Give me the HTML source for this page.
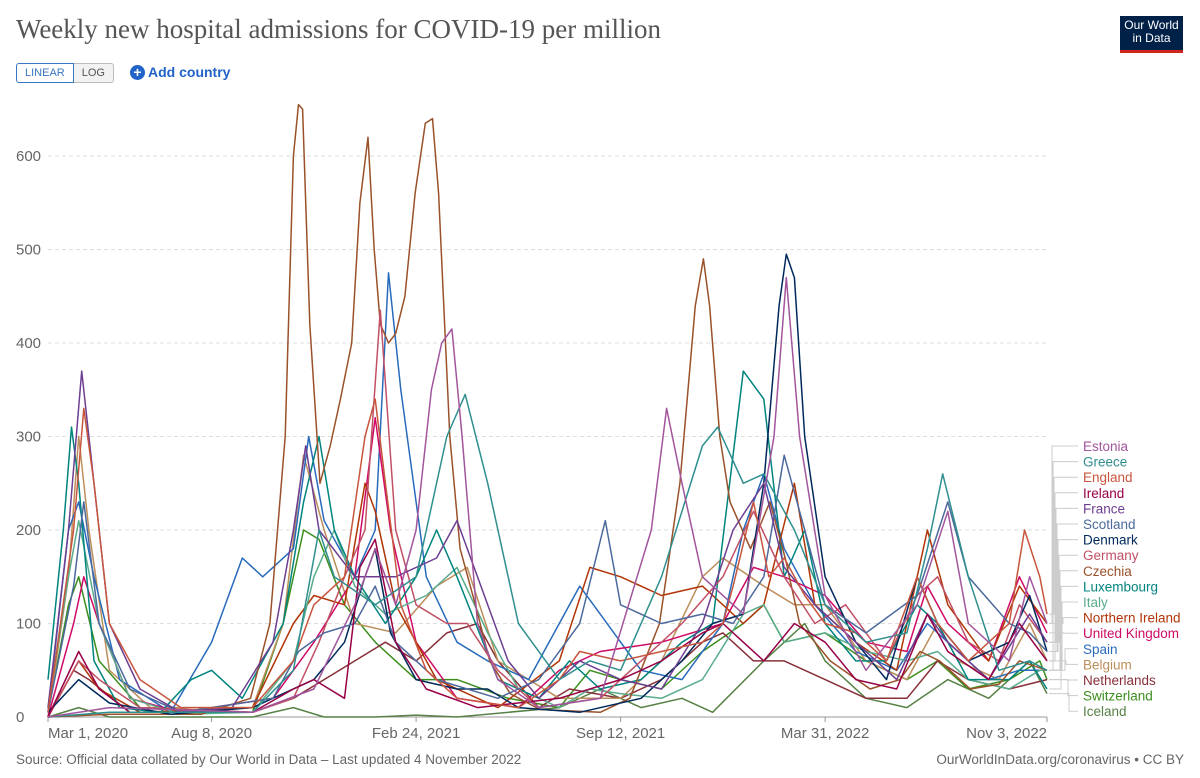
<!DOCTYPE html>
<html><head><meta charset="utf-8">
<style>
body{margin:0;background:#fff;width:1200px;height:778px;overflow:hidden;font-family:"Liberation Sans",sans-serif;}
#wrap{position:relative;width:1200px;height:778px;}
.title{position:absolute;left:16px;top:14px;font-family:"Liberation Serif",serif;font-size:27px;color:#555;}
.logo{position:absolute;left:1120px;top:16px;width:63px;height:37px;background:#002147;color:#fff;font-size:12px;line-height:13px;text-align:center;padding-top:3px;box-sizing:border-box;border-bottom:3px solid #ce261e;}
.btns{position:absolute;left:16px;top:63px;display:flex;font-size:11px;}
.btn{border:1px solid #bbb;padding:3px 8px;color:#555;background:#f2f2f2;}
.btn.on{border-color:#3a76c4;color:#3a76c4;background:#fff;border-radius:3px 0 0 3px;}
.btn.off{border-radius:0 3px 3px 0;border-left:none;}
.add{position:absolute;left:130px;top:64px;color:#2163c8;font-size:14px;font-weight:bold;}
.add span{display:inline-block;width:15px;height:15px;border-radius:50%;background:#2163c8;color:#fff;text-align:center;line-height:15px;font-size:14px;margin-right:3px;}
.foot{position:absolute;top:752px;font-size:13.5px;color:#666;}
</style></head><body>
<div id="wrap">
<div class="title">Weekly new hospital admissions for COVID-19 per million</div>
<div class="logo">Our World<br>in Data</div>
<div class="btns"><div class="btn on">LINEAR</div><div class="btn off">LOG</div></div>
<div class="add"><span>+</span>Add country</div>
<svg id="chart" width="1200" height="778" style="position:absolute;left:0;top:0"></svg>
<div class="foot" style="left:16px">Source: Official data collated by Our World in Data – Last updated 4 November 2022</div>
<div class="foot" style="right:16px">OurWorldInData.org/coronavirus • CC BY</div>
</div>
<script>
const yTicks=[0,100,200,300,400,500,600];
const xTickLabels=["Mar 1, 2020","Aug 8, 2020","Feb 24, 2021","Sep 12, 2021","Mar 31, 2022","Nov 3, 2022"];
const xTickDays=[0,160,360,560,760,977];
const legendOrder=["Estonia","Greece","England","Ireland","France","Scotland","Denmark","Germany","Czechia","Luxembourg","Italy","Northern Ireland","United Kingdom","Spain","Belgium","Netherlands","Switzerland","Iceland"];
const colors={Estonia:"#A2559C",Greece:"#2F8F8F",England:"#C8553D",Ireland:"#970046",France:"#6D3E91",Scotland:"#4C6A9C",Denmark:"#00295B",Germany:"#C15065",Czechia:"#9A5129",Luxembourg:"#00847E",Italy:"#58AC8C",Northern_Ireland:"#B13507",United_Kingdom:"#CF0A66",Spain:"#286BBB",Belgium:"#BC8E5A",Netherlands:"#883039",Switzerland:"#3B8E1D",Iceland:"#578145"};
// [day since Mar 1 2020, value]
const czechia=[[0,0],[60,3],[150,3],[198,20],[217,100],[232,300],[240,600],[245,655],[249,650],[256,420],[266,250],[276,290],[286,340],[297,400],[305,550],[313,620],[319,500],[325,420],[333,400],[340,410],[349,450],[359,560],[369,635],[376,640],[382,560],[393,300],[403,180],[418,120],[432,60],[452,25],[481,8],[540,5],[569,20],[598,100],[618,250],[633,440],[641,490],[647,440],[657,300],[667,230],[687,180],[706,230],[721,170],[735,100],[765,60],[804,30],[833,40],[853,70],[872,60],[902,30],[930,35],[950,60],[977,50]];
const denmark=[[0,5],[30,40],[60,15],[120,3],[200,10],[260,40],[290,80],[310,150],[320,180],[335,90],[360,40],[400,30],[430,30],[460,10],[520,5],[580,20],[620,60],[650,100],[680,110],[700,250],[715,440],[722,495],[730,470],[740,300],[760,150],[790,80],[820,40],[850,150],[870,100],[900,60],[940,80],[960,130],[977,70]];
const estonia=[[0,0],[60,10],[200,5],[260,30],[300,120],[320,180],[340,120],[360,200],[375,350],[385,400],[395,415],[405,300],[420,100],[440,40],[480,10],[540,20],[590,200],[605,330],[620,250],[640,150],[680,110],[710,300],[722,470],[735,300],[760,130],[800,50],[850,120],[880,220],[900,100],[940,60],[960,150],[977,100]];
const france=[[0,10],[20,200],[33,370],[45,250],[60,100],[90,30],[130,5],[180,10],[220,80],[240,200],[252,290],[265,200],[300,150],[340,150],[380,170],[400,210],[420,150],[450,60],[480,20],[520,60],[560,40],[600,30],[640,100],[670,200],[700,250],[720,160],[750,120],[790,80],[830,40],[860,110],[880,80],[920,40],[960,110],[977,80]];
const luxembourg=[[0,40],[15,200],[23,310],[30,250],[45,60],[70,10],[110,5],[140,40],[160,50],[190,20],[230,100],[250,230],[265,300],[280,200],[300,150],[330,100],[360,150],[380,200],[400,150],[440,40],[480,20],[510,60],[540,30],[580,40],[620,80],[650,100],[680,370],[700,340],[720,150],[740,200],[760,100],[790,60],[820,60],[850,120],[870,100],[900,40],[940,40],[960,60],[977,30]];
const greece=[[0,0],[60,5],[200,5],[240,50],[265,200],[280,150],[320,120],[360,150],[390,300],[408,345],[430,250],[460,100],[500,40],[530,60],[560,50],[600,150],[640,290],[655,310],[680,250],[700,260],[730,200],[760,120],[800,80],[840,90],[860,180],[875,260],[900,150],[930,50],[960,60],[977,50]];
const england=[[0,5],[25,200],[35,330],[45,250],[60,100],[90,40],[130,10],[200,10],[240,60],[260,120],[290,150],[310,300],[320,340],[330,250],[345,120],[370,50],[400,20],[460,10],[500,40],[520,70],[560,60],[600,70],[640,80],[660,100],[670,140],[690,230],[705,150],[720,170],[740,130],[760,100],[790,90],[820,60],[850,150],[870,100],[900,60],[940,100],[955,200],[970,150],[977,110]];
const ireland=[[0,0],[30,70],[50,30],[80,5],[200,5],[240,30],[260,40],[290,20],[305,160],[320,190],[340,80],[370,30],[420,10],[500,20],[560,40],[600,60],[640,90],[660,100],[680,80],[700,60],[730,100],[760,80],[790,40],[830,30],[860,110],[880,70],[920,40],[950,100],[977,60]];
const scotland=[[0,5],[25,140],[35,230],[50,100],[80,30],[130,5],[220,20],[245,70],[270,90],[300,100],[320,140],[340,80],[380,40],[440,20],[480,40],[520,100],[545,210],[560,120],[600,100],[640,110],[670,100],[700,150],[720,280],[740,200],[760,120],[800,90],[850,130],[880,230],[900,150],[940,100],[960,90],[977,70]];
const germany=[[0,0],[30,60],[50,40],[90,10],[200,5],[240,20],[265,80],[290,150],[310,200],[325,435],[340,200],[360,120],[390,100],[410,100],[440,50],[480,10],[540,20],[580,60],[620,100],[660,150],[690,220],[720,150],[750,100],[780,120],[820,60],[850,130],[870,150],[900,80],[930,60],[950,120],[977,80]];
const italy=[[0,10],[20,150],[30,210],[50,100],[80,20],[130,3],[200,5],[240,60],[260,150],[280,200],[300,140],[330,110],[370,130],[400,160],[430,90],[460,30],[500,10],[530,30],[560,25],[600,20],[640,40],[680,110],[700,120],[720,80],[760,90],[800,70],[840,60],[870,70],[900,40],[940,30],[970,50],[977,50]];
const nIreland=[[0,0],[30,60],[50,30],[90,5],[200,10],[240,100],[260,130],[290,120],[310,250],[320,220],[340,120],[380,40],[440,10],[500,60],[530,160],[560,150],[600,130],[640,140],[680,100],[700,120],[730,250],[750,120],[790,80],[830,50],[860,200],[880,120],[920,60],[950,140],[977,100]];
const uk=[[0,0],[25,100],[35,150],[50,100],[80,20],[130,5],[220,20],[260,80],[300,150],[320,320],[335,200],[360,80],[400,20],[460,10],[500,50],[540,70],[600,80],[660,100],[690,160],[720,150],[760,130],[800,80],[840,70],[860,140],[880,100],[920,60],[950,150],[977,90]];
const spain=[[0,5],[20,200],[30,230],[45,150],[70,40],[120,5],[160,80],[190,170],[210,150],[240,180],[255,300],[270,210],[300,150],[320,200],[333,475],[345,350],[370,150],[400,80],[430,60],[470,40],[500,100],[520,140],[540,110],[580,50],[620,40],[660,100],[680,200],[700,260],[720,180],[750,120],[790,70],[830,50],[860,100],[880,80],[920,40],[950,50],[977,50]];
const belgium=[[0,0],[20,150],[30,300],[40,200],[60,50],[100,10],[200,10],[230,100],[250,280],[270,200],[300,100],[340,90],[380,140],[410,160],[440,60],[500,20],[560,20],[600,60],[640,150],[660,170],[700,140],[730,120],[760,120],[800,60],[840,40],[870,100],[890,60],[930,40],[960,100],[977,60]];
const netherlands=[[0,0],[25,50],[40,40],[80,5],[200,5],[240,20],[270,40],[300,60],[330,80],[360,60],[390,90],[420,100],[440,60],[480,10],[510,30],[560,20],[600,40],[640,80],[660,90],[690,60],[720,60],[760,40],[800,20],[840,20],[870,60],[900,40],[940,30],[977,40]];
const switzerland=[[0,5],[20,120],[30,150],[50,60],[90,10],[200,5],[230,100],[250,200],[265,190],[290,120],[320,80],[360,40],[400,40],[450,20],[500,10],[530,50],[560,40],[600,30],[640,70],[680,100],[700,120],[720,80],[760,90],[800,60],[840,40],[870,60],[900,30],[940,40],[970,60],[977,40]];
const iceland=[[0,0],[30,10],[60,0],[200,0],[240,10],[270,0],[320,0],[360,2],[400,0],[500,10],[540,30],[580,10],[620,20],[650,5],[700,60],[740,100],[760,60],[800,20],[840,10],[880,40],[920,20],[960,60],[977,25]];
const seriesData={Estonia:estonia,Greece:greece,England:england,Ireland:ireland,France:france,Scotland:scotland,Denmark:denmark,Germany:germany,Czechia:czechia,Luxembourg:luxembourg,Italy:italy,"Northern Ireland":nIreland,"United Kingdom":uk,Spain:spain,Belgium:belgium,Netherlands:netherlands,Switzerland:switzerland,Iceland:iceland};

const NS="http://www.w3.org/2000/svg";
const svg=document.getElementById('chart');
const X0=48,X1=1047,DMAX=977,Y0=717,Y600=156;
const xs=d=>X0+(X1-X0)*d/DMAX;
const ys=v=>Y0-(Y0-Y600)*v/600;
function mk(tag,attrs,txt){const e=document.createElementNS(NS,tag);for(const k in attrs)e.setAttribute(k,attrs[k]);if(txt!==undefined)e.textContent=txt;svg.appendChild(e);return e;}
yTicks.forEach(t=>{
  if(t>0){const g=mk('line',{x1:X0,x2:X1,y1:ys(t),y2:ys(t),stroke:'#ddd','stroke-dasharray':'4,3'});
  
  }
  const l=mk('text',{x:16,y:ys(t)+5,'font-size':15,fill:'#666'},String(t));
  
  
});
const ax=mk('line',{x1:X0,x2:X1,y1:Y0,y2:Y0,stroke:'#999'});


xTickLabels.forEach((lab,i)=>{
  const x=xs(xTickDays[i]);
  mk('line',{x1:x,x2:x,y1:Y0,y2:Y0+5,stroke:'#999'});
  const anchor=i===0?'start':(i===xTickLabels.length-1?'end':'middle');
  const t=mk('text',{x:i===0?x:(i===xTickLabels.length-1?x:x),y:738,'font-size':15,fill:'#666','text-anchor':anchor},lab);
  
  
});
const keyName=n=>n.replace(' ','_');
// draw series (Czechia last-ish order as given)
legendOrder.slice().reverse().forEach(name=>{
  const pts=seriesData[name].map(p=>xs(p[0]).toFixed(1)+','+ys(p[1]).toFixed(1)).join(' ');
  const pl=mk('polyline',{points:pts,fill:'none',stroke:colors[keyName(name)],'stroke-width':1.5,'stroke-linejoin':'round'});
  
  
});
legendOrder.forEach((name,i)=>{
  const ly=446+i*15.6;
  const d=seriesData[name];const ye=ys(d[d.length-1][1]);
  const c=mk('polyline',{points:`${X1+2},${ye} ${1052+i*1.0},${ye} ${1052+i*1.0},${ly} 1078,${ly}`,fill:'none',stroke:'#ccc','stroke-width':1});
  
  
  const t=mk('text',{x:1083,y:ly+5,'font-size':13.5,fill:colors[keyName(name)]},name);
  
  
});
</script>
</body></html>
